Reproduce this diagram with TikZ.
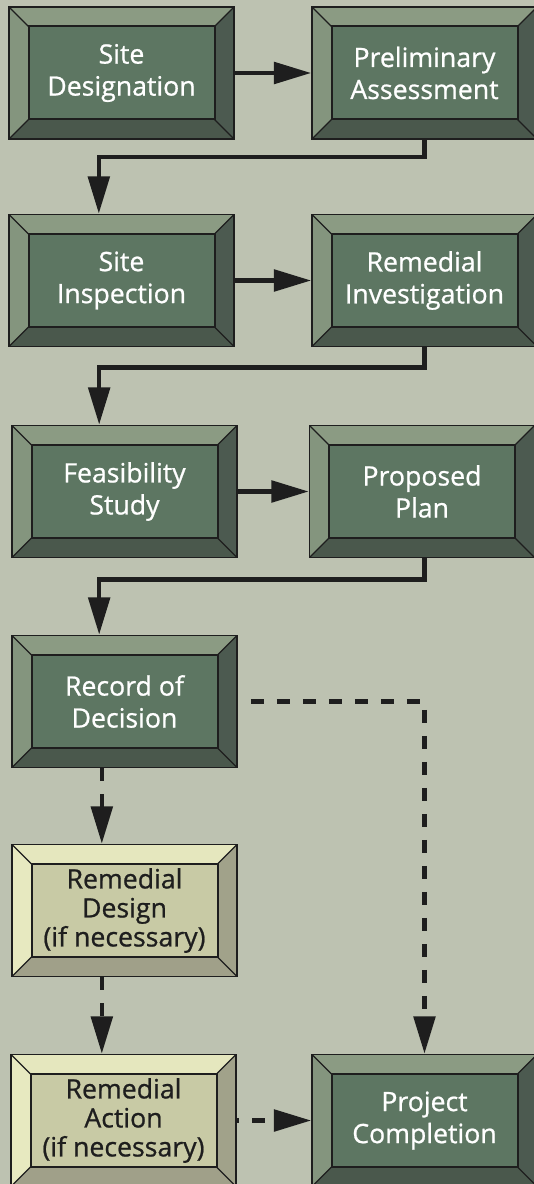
\documentclass[tikz,border=0pt]{standalone}
\usepackage{fontspec}
\setmainfont{Open Sans}[FakeBold=0.8,UprightFeatures={FakeBold=0.8}]
\usetikzlibrary{arrows.meta,calc}
\definecolor{bg}{HTML}{BDC2B1}
\definecolor{rim}{HTML}{1E1E1E}
\definecolor{ink}{HTML}{1E1E1E}
\definecolor{dface}{HTML}{5D7662}
\definecolor{dtop}{HTML}{8B9B83}
\definecolor{dleft}{HTML}{84957E}
\definecolor{dright}{HTML}{4C5A50}
\definecolor{dbot}{HTML}{4A584C}
\definecolor{lface}{HTML}{C8CAA5}
\definecolor{ltop}{HTML}{E5E7BE}
\definecolor{lleft}{HTML}{E7E9C0}
\definecolor{lright}{HTML}{A1A28A}
\definecolor{lbot}{HTML}{A0A089}
\begin{document}
\begin{tikzpicture}[x=.75pt,y=-.75pt,
    stage/.style n args={5}{draw=rim,line width=1.2pt,fill=#1,
      minimum width=168.75pt,minimum height=99pt,inner sep=0pt,align=center,
      path picture={
        \coordinate (nw) at (path picture bounding box.north west);
        \coordinate (ne) at (path picture bounding box.north east);
        \coordinate (sw) at (path picture bounding box.south west);
        \coordinate (se) at (path picture bounding box.south east);
        \fill[#2] (nw) -- (ne) -- ($(ne)+(-19.5,19.5)$) -- ($(nw)+(19.5,19.5)$) -- cycle;
        \fill[#3] (nw) -- ($(nw)+(19.5,19.5)$) -- ($(sw)+(19.5,-19.5)$) -- (sw) -- cycle;
        \fill[#4] (ne) -- (se) -- ($(se)+(-19.5,-19.5)$) -- ($(ne)+(-19.5,19.5)$) -- cycle;
        \fill[#5] (sw) -- (se) -- ($(se)+(-19.5,-19.5)$) -- ($(sw)+(19.5,-19.5)$) -- cycle;
        \draw[rim,line width=1pt] (nw) -- ++(19.5,19.5) (ne) -- ++(-19.5,19.5)
          (sw) -- ++(19.5,-19.5) (se) -- ++(-19.5,-19.5);
        \draw[rim,line width=1.5pt] ($(nw)+(19.5,19.5)$) rectangle ($(se)+(-19.5,-19.5)$);
      }},
    darkbox/.style={stage={dface}{dtop}{dleft}{dright}{dbot},text=white,
      font=\fontsize{20}{24}\selectfont},
    lightbox/.style={stage={lface}{ltop}{lleft}{lright}{lbot},text=ink,
      font=\fontsize{20}{21.75}\selectfont},
    flow/.style={draw=ink,line width=3.4pt,-{Triangle[length=28pt,width=16pt]}},
    dflow/.style={flow,dash pattern=on 9.75pt off 9.75pt}]
  \fill[bg] (0,0) rectangle (534,1184);
  \useasboundingbox (0,0) rectangle (534,1184);

  \foreach \n/\x/\y/\lbl in {sd/121.5/73/{Site\\Designation},
      pa/424.5/73/{Preliminary\\Assessment},
      si/121.5/280.5/{Site\\Inspection},
      ri/424.5/280.5/{Remedial\\Investigation},
      fs/124.5/491.5/{Feasibility\\Study},
      pp/422/491.5/{Proposed\\Plan},
      rod/124.5/701.5/{Record of\\Decision},
      pc/424.5/1120.5/{Project\\Completion}}{%
    \node[darkbox] (\n) at (\x,\y) {\lbl};
  }
  \foreach \n/\x/\y/\lbl in {rd/124.5/910.5/{Remedial\\Design\\(if necessary)},
      ra/123.5/1120.5/{Remedial\\Action\\(if necessary)}}{%
    \node[lightbox] (\n) at (\x,\y) {\lbl};
  }

  \draw[flow] (sd) -- (pa);
  \draw[flow] (pa.south) -- ++(0,17) -| ([xshift=-17pt]si.north);
  \draw[flow] (si) -- (ri);
  \draw[flow] (ri.south) -- ++(0,20) -| ([xshift=-19pt]fs.north);
  \draw[flow] (fs) -- (pp);
  \draw[flow] ([xshift=2pt]pp.south) -- ++(0,21) -| ([xshift=-19pt]rod.north);

  \draw[dflow] ([xshift=-17pt]rod.south) -- ([xshift=-17pt]rd.north);
  \draw[dflow] ([xshift=-17pt]rd.south) -- ([xshift=-17pt]rd.south |- ra.north);
  \draw[dflow,dash phase=9.75pt] (rod.east) -| (pc.north);
  \draw[dflow,dash phase=8pt] (ra) -- (pc);
\end{tikzpicture}
\end{document}
